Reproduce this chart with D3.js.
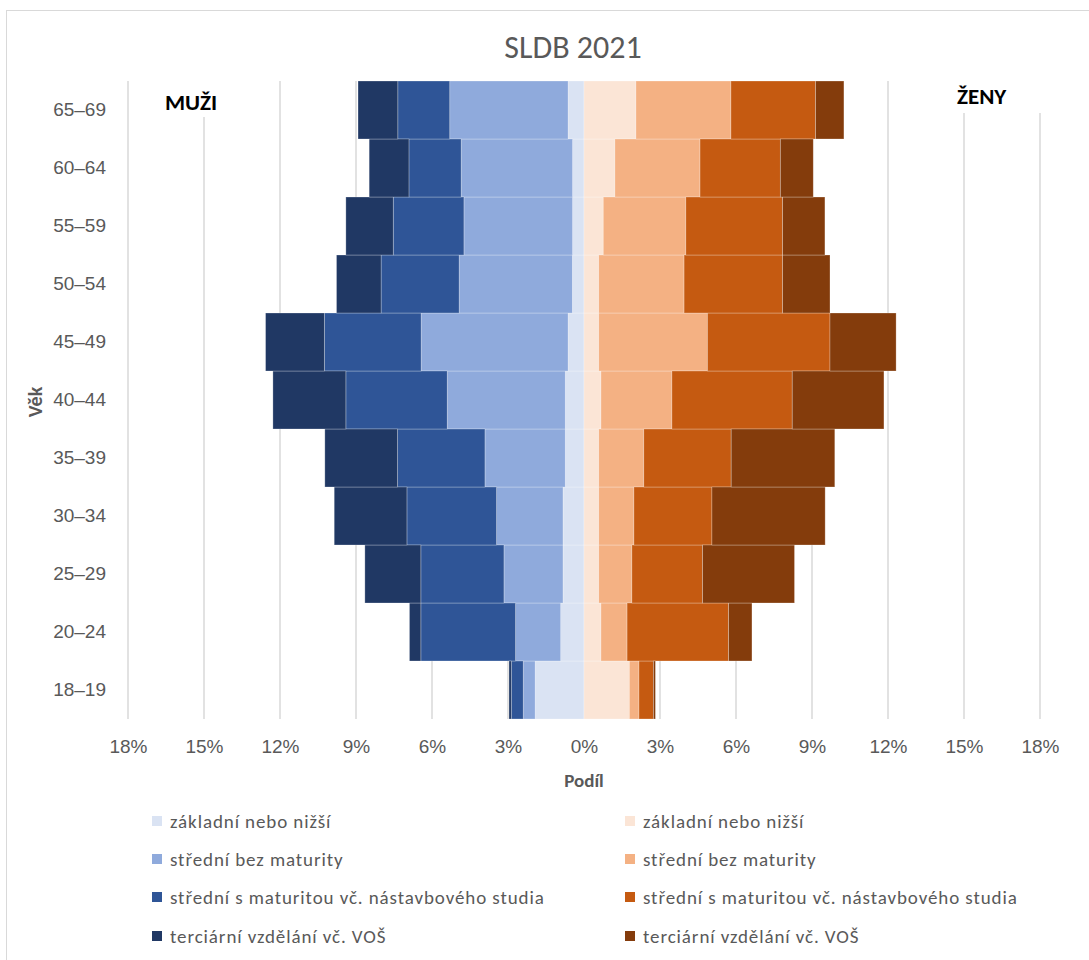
<!DOCTYPE html>
<html>
<head>
<meta charset="utf-8">
<script src="https://cdn.jsdelivr.net/npm/d3@7"></script>
<style>
  html, body { margin: 0; padding: 0; background: #fff; }
  svg { display: block; font-family: Carlito, Calibri, Lato, "Open Sans", sans-serif; }
</style>
</head>
<body>
<svg id="chart" width="1089" height="960"></svg>
<script>
// ---- data ----
const ageGroups = ["18–19","20–24","25–29","30–34","35–39","40–44","45–49","50–54","55–59","60–64","65–69"];
const educationLevels = ["základní nebo nižší","střední bez maturity","střední s maturitou vč. nástavbového studia","terciární vzdělání vč. VOŠ"];

const menZakladni   = [1.93, 0.92, 0.83, 0.83, 0.74, 0.74, 0.63, 0.46, 0.45, 0.45, 0.63];
const menBezMat     = [0.47, 1.78, 2.33, 2.62, 3.17, 4.66, 5.80, 4.47, 4.29, 4.40, 4.67];
const menSMat       = [0.47, 3.74, 3.28, 3.54, 3.45, 4.00, 3.82, 3.08, 2.79, 2.06, 2.05];
const menTerciarni  = [0.09, 0.45, 2.21, 2.87, 2.87, 2.88, 2.32, 1.76, 1.87, 1.57, 1.57];

const womenZakladni  = [1.79, 0.67, 0.58, 0.58, 0.58, 0.67, 0.58, 0.58, 0.76, 1.22, 2.05];
const womenBezMat    = [0.38, 1.03, 1.31, 1.39, 1.78, 2.80, 4.29, 3.37, 3.26, 3.36, 3.75];
const womenSMat      = [0.57, 4.01, 2.79, 3.08, 3.45, 4.75, 4.84, 3.89, 3.82, 3.17, 3.34];
const womenTerciarni = [0.08, 0.92, 3.63, 4.47, 4.09, 3.62, 2.61, 1.87, 1.67, 1.30, 1.12];

const xTickValues = [-18, -15, -12, -9, -6, -3, 0, 3, 6, 9, 12, 15, 18];

const menColors   = ["#DAE3F3", "#8FAADC", "#2F5597", "#203864"];
const womenColors = ["#FBE5D6", "#F4B183", "#C55A11", "#843C0C"];

// ---- build tables ----
const keys = ["k0","k1","k2","k3"];
const menSeries = [menZakladni, menBezMat, menSMat, menTerciarni];
const womenSeries = [womenZakladni, womenBezMat, womenSMat, womenTerciarni];
const menRows = ageGroups.map((a, i) => { const r = {age: a}; keys.forEach((k, j) => r[k] = menSeries[j][i]); return r; });
const womenRows = ageGroups.map((a, i) => { const r = {age: a}; keys.forEach((k, j) => r[k] = womenSeries[j][i]); return r; });

const stack = d3.stack().keys(keys);
const menStack = stack(menRows);
const womenStack = stack(womenRows);

// ---- layout ----
const svg = d3.select("#chart");
const plot = {left: 128, right: 1040, top: 81, bottom: 719};
const textColor = "#595959";

svg.append("rect").attr("x", 6.5).attr("y", 10.5).attr("width", 1200).attr("height", 1200)
  .attr("fill", "#fff").attr("stroke", "#D9D9D9").attr("stroke-width", 1);

const x = d3.scaleLinear().domain([-18, 18]).range([plot.left, plot.right]);
const y = d3.scaleBand().domain(ageGroups.slice().reverse()).range([plot.top, plot.bottom]).padding(0);

// gridlines
svg.append("g").selectAll("line").data(xTickValues).join("line")
  .attr("x1", d => x(d)).attr("x2", d => x(d))
  .attr("y1", plot.top).attr("y2", plot.bottom)
  .attr("stroke", "#D9D9D9").attr("stroke-width", 1.5);

// men bars (left, negative)
const gm = svg.append("g");
menStack.forEach((layer, j) => {
  gm.append("g").selectAll("rect").data(layer).join("rect")
    .attr("x", d => x(-d[1]))
    .attr("width", d => x(-d[0]) - x(-d[1]))
    .attr("y", d => y(d.data.age))
    .attr("height", y.bandwidth())
    .attr("fill", menColors[j])
    .attr("stroke", "rgba(255,255,255,0.35)").attr("stroke-width", 0.75);
});
// women bars (right)
const gw = svg.append("g");
womenStack.forEach((layer, j) => {
  gw.append("g").selectAll("rect").data(layer).join("rect")
    .attr("x", d => x(d[0]))
    .attr("width", d => x(d[1]) - x(d[0]))
    .attr("y", d => y(d.data.age))
    .attr("height", y.bandwidth())
    .attr("fill", womenColors[j])
    .attr("stroke", "rgba(255,255,255,0.35)").attr("stroke-width", 0.75);
});

// axes
const xAxis = d3.axisBottom(x).tickValues(xTickValues).tickSize(0).tickPadding(18)
  .tickFormat(d => Math.abs(d) + "%");
const gx = svg.append("g").attr("transform", `translate(0,${plot.bottom})`).call(xAxis);
gx.select(".domain").remove();
gx.selectAll("text").attr("fill", textColor).style("font-size", "19px")
  .attr("dy", "0").attr("y", 34);

const yAxis = d3.axisLeft(y).tickSize(0).tickPadding(22);
const gy = svg.append("g").attr("transform", `translate(${plot.left},0)`).call(yAxis);
gy.select(".domain").remove();
gy.selectAll("text").attr("fill", textColor).style("font-size", "19px").attr("dy", "0.32em");

// title
svg.append("text").attr("x", 573).attr("y", 58).attr("text-anchor", "middle")
  .attr("fill", textColor).style("font-size", "32px").text("SLDB 2021");

// axis titles
svg.append("text").attr("x", 584).attr("y", 787).attr("text-anchor", "middle")
  .attr("fill", textColor).style("font-size", "19px").style("font-weight", "bold").text("Podíl");
svg.append("text").attr("transform", "translate(42,402) rotate(-90)").attr("text-anchor", "middle")
  .attr("fill", textColor).style("font-size", "20px").style("font-weight", "bold").text("Věk");

// MUŽI / ŽENY boxes
svg.append("rect").attr("x", 140).attr("y", plot.top).attr("width", 130).attr("height", 36).attr("fill", "#fff");
svg.append("text").attr("x", 165).attr("y", 110).attr("fill", "#000")
  .style("font-size", "23px").style("font-weight", "bold").text("MUŽI");
svg.append("rect").attr("x", 900).attr("y", plot.top).attr("width", 150).attr("height", 32).attr("fill", "#fff");
svg.append("text").attr("x", 957).attr("y", 104).attr("fill", "#000")
  .style("font-size", "23px").style("font-weight", "bold").text("ŽENY");

// legend
const legendRowsY = [821, 859, 897, 936];
const legendCols = [{x: 152, colors: menColors}, {x: 625, colors: womenColors}];
legendCols.forEach(col => {
  const g = svg.append("g");
  g.selectAll("rect").data(educationLevels).join("rect")
    .attr("x", col.x).attr("y", (d, i) => legendRowsY[i] - 5)
    .attr("width", 10).attr("height", 10)
    .attr("fill", (d, i) => col.colors[i]);
  g.selectAll("text").data(educationLevels).join("text")
    .attr("x", col.x + 18).attr("y", (d, i) => legendRowsY[i]).attr("dy", "0.35em")
    .attr("fill", textColor).style("font-size", "19px").style("letter-spacing", "0.9px").text(d => d);
});
</script>
</body>
</html>
